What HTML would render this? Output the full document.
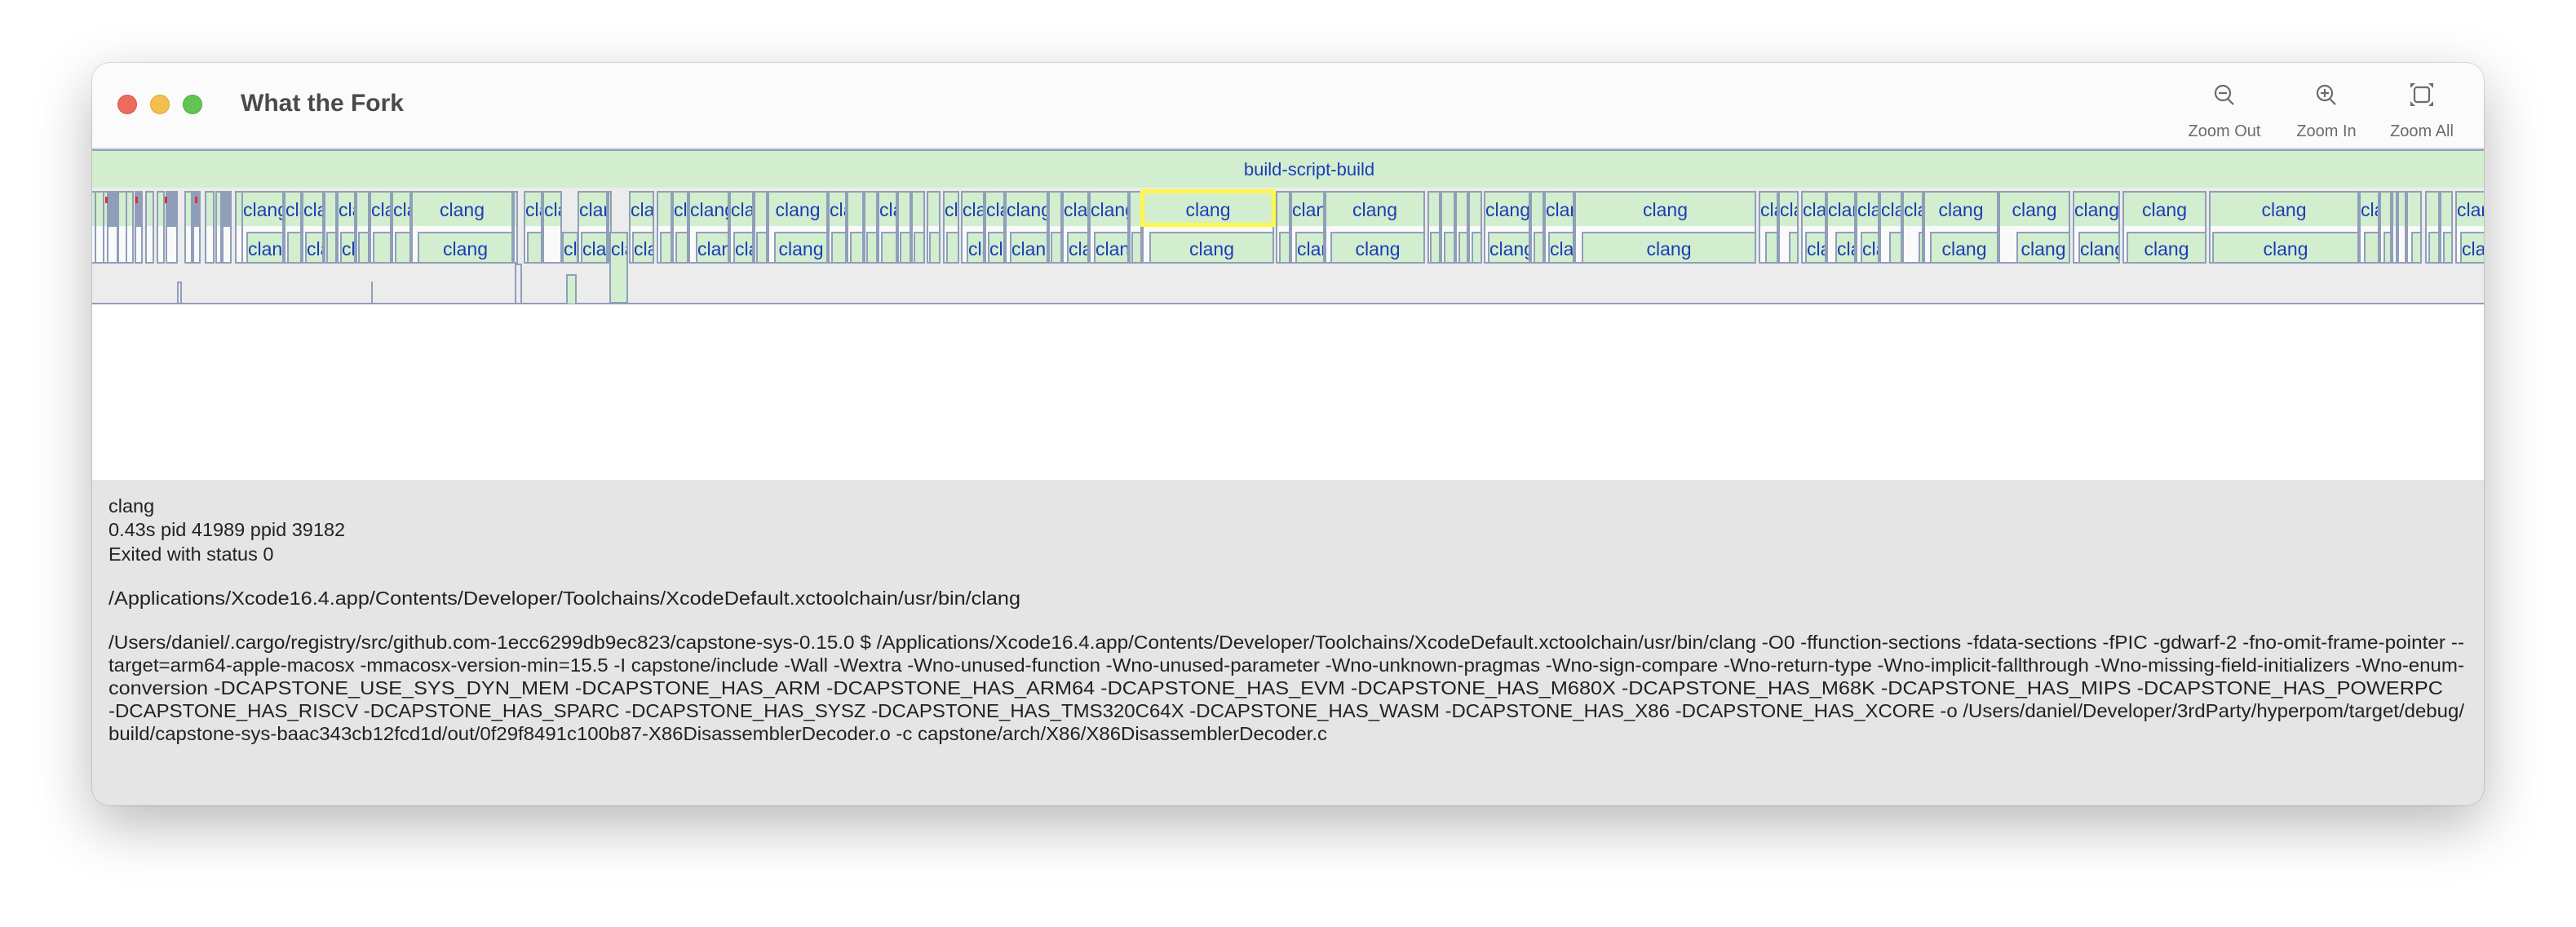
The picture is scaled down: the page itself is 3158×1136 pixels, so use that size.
<!DOCTYPE html>
<html><head><meta charset="utf-8"><style>
*{margin:0;padding:0;box-sizing:border-box}
body{width:3158px;height:1136px;background:#fff;position:relative;overflow:hidden;font-family:"Liberation Sans",Arial,sans-serif}
#win{position:absolute;left:113px;top:77px;width:2932px;height:910px;border-radius:22px;overflow:hidden;background:#fff;box-shadow:0 24px 70px rgba(0,0,0,.28),0 0 0 1px rgba(0,0,0,.12)}
#in{position:absolute;left:-113px;top:-77px;width:3158px;height:1136px}
.a{position:absolute}
i{position:absolute;display:block;font-style:normal;border:2px solid #909fb9;overflow:hidden;white-space:nowrap;text-align:center;color:#1c3cb8;font-size:23px}
i.p{top:234px;height:89px;background:linear-gradient(#d2eecf 0,#d2eecf 41px,#fafafa 41px)}
i.p b{display:block;line-height:42px;font-weight:normal}
i.c{top:284px;height:39px;background:#d2eecf}
i.c b{display:block;line-height:38px;font-weight:normal}
i.d{top:234px;height:89px;background:linear-gradient(#909fb9 0,#909fb9 42px,#fafafa 42px)}
.t{position:absolute;left:133px;font-size:23.5px;color:#222;line-height:28px;white-space:nowrap}
.lb{position:absolute;top:150px;font-size:20px;color:#6b6b6b;transform:translateX(-50%);white-space:nowrap}
</style></head><body>
<div id="win"><div id="in">
<div class="a" style="left:0;top:77px;width:3158px;height:104px;background:#fbfbfb"></div>
<div class="a" style="left:0;top:181px;width:3158px;height:2px;background:#d9d9d9"></div>
<div class="a" style="left:144px;top:116px;width:24px;height:24px;border-radius:50%;background:#ec6a5e;border:1px solid #d9564b"></div>
<div class="a" style="left:184px;top:116px;width:24px;height:24px;border-radius:50%;background:#f4bf4f;border:1px solid #dca63a"></div>
<div class="a" style="left:224px;top:116px;width:24px;height:24px;border-radius:50%;background:#61c554;border:1px solid #4ead42"></div>
<div class="a" style="left:295px;top:110px;font-size:30px;font-weight:bold;color:#4a4a4a">What the Fork</div>
<svg class="a" style="left:2690px;top:95px" width="310" height="40" viewBox="2690 95 310 40">
<g fill="none" stroke="#6b6b6b" stroke-width="2.2">
<circle cx="2725" cy="114" r="9"/><line x1="2731" y1="121" x2="2738" y2="128"/><line x1="2720" y1="114" x2="2730" y2="114"/>
<circle cx="2850" cy="114" r="9"/><line x1="2856" y1="121" x2="2863" y2="128"/><line x1="2845" y1="114" x2="2855" y2="114"/><line x1="2850" y1="109" x2="2850" y2="119"/>
<rect x="2960" y="107" width="18" height="18" rx="3"/>
</g>
<g fill="#6b6b6b"><path d="M2955 102h6l-6 6z"/><path d="M2983 102h-6l6 6z"/><path d="M2955 130h6l-6-6z"/><path d="M2983 130h-6l6-6z"/></g>
</svg>
<div class="lb" style="left:2727px">Zoom Out</div>
<div class="lb" style="left:2852px">Zoom In</div>
<div class="lb" style="left:2969px">Zoom All</div>

<div class="a" style="left:0;top:183px;width:3158px;height:2px;background:#909fb9"></div>
<div class="a" style="left:0;top:185px;width:3158px;height:45px;background:#d2eecf;text-align:center;font-size:22px;color:#1c3cb8;line-height:46px"><span style="position:absolute;left:1605px;transform:translateX(-50%)">build-script-build</span></div>
<div class="a" style="left:0;top:230px;width:3158px;height:142px;background:#ececec"></div>
<div class="a" style="left:0;top:371px;width:3158px;height:2px;background:#909fb9"></div>

<i class="p" style="left:111px;width:7px"></i><i class="p" style="left:116px;width:12px"></i><i class="p" style="left:126px;width:7px"></i><i class="d" style="left:131px;width:14px"></i><i class="p" style="left:144px;width:12px"></i><i class="p" style="left:154px;width:10px"></i><i class="d" style="left:165px;width:10px"></i><i class="p" style="left:178px;width:11px"></i><i class="p" style="left:192px;width:10px"></i><i class="d" style="left:203px;width:15px"></i><i class="p" style="left:226px;width:10px"></i><i class="d" style="left:236px;width:10px"></i><i class="p" style="left:251px;width:12px"></i><i class="p" style="left:264px;width:8px"></i><i class="d" style="left:272px;width:12px"></i><i class="p" style="left:288px;width:10px"></i>
<div class="a" style="left:129px;top:241px;width:3px;height:8px;background:#e03030"></div><div class="a" style="left:166px;top:241px;width:3px;height:8px;background:#e03030"></div><div class="a" style="left:202px;top:241px;width:3px;height:8px;background:#e03030"></div><div class="a" style="left:239px;top:241px;width:3px;height:8px;background:#e03030"></div>

<i class="p" style="left:296px;width:52px"><b>clang</b></i><i class="c" style="left:302px;width:46px"><b>clang</b></i>
<i class="p" style="left:348px;width:22px"><b>clang</b></i><i class="c" style="left:352px;width:18px"></i>
<i class="p" style="left:370px;width:27px"><b>clang</b></i><i class="c" style="left:374px;width:23px"><b>clang</b></i>
<i class="p" style="left:397px;width:16px"></i><i class="c" style="left:400px;width:13px"></i>
<i class="p" style="left:413px;width:23px"><b>clang</b></i><i class="c" style="left:417px;width:19px"><b>clang</b></i>
<i class="p" style="left:436px;width:17px"></i><i class="c" style="left:439px;width:14px"></i>
<i class="p" style="left:453px;width:27px"><b>clang</b></i><i class="c" style="left:457px;width:23px"></i>
<i class="p" style="left:480px;width:24px"><b>clang</b></i><i class="c" style="left:484px;width:20px"></i>
<i class="p" style="left:504px;width:125px"><b>clang</b></i><i class="c" style="left:512px;width:117px"><b>clang</b></i>
<i class="p" style="left:629px;width:6px"></i>
<i class="p" style="left:642px;width:23px"><b>clang</b></i><i class="c" style="left:646px;width:19px"></i>
<i class="p" style="left:665px;width:24px"><b>clang</b></i><i class="c" style="left:689px;width:20px"><b>clang</b></i>
<i class="p" style="left:708px;width:37px"><b>clang</b></i><i class="c" style="left:712px;width:33px"><b>clang</b></i>
<i class="p" style="left:745px;width:5px"></i>
<i class="c" style="left:747px;width:23px;height:88px"><b>clang</b></i>
<i class="p" style="left:771px;width:31px"><b>clang</b></i><i class="c" style="left:775px;width:27px"><b>clang</b></i>
<i class="p" style="left:805px;width:19px"></i><i class="c" style="left:809px;width:15px"></i>
<i class="p" style="left:824px;width:20px"><b>clang</b></i><i class="c" style="left:828px;width:16px"></i>
<i class="p" style="left:844px;width:50px"><b>clang</b></i><i class="c" style="left:853px;width:41px"><b>clang</b></i>
<i class="p" style="left:894px;width:30px"><b>clang</b></i><i class="c" style="left:899px;width:25px"><b>clang</b></i>
<i class="p" style="left:924px;width:17px"></i><i class="c" style="left:927px;width:14px"></i>
<i class="p" style="left:941px;width:74px"><b>clang</b></i><i class="c" style="left:949px;width:66px"><b>clang</b></i>
<i class="p" style="left:1015px;width:23px"><b>clang</b></i><i class="c" style="left:1019px;width:19px"></i>
<i class="p" style="left:1038px;width:21px"></i><i class="c" style="left:1042px;width:17px"></i>
<i class="p" style="left:1059px;width:17px"></i><i class="c" style="left:1062px;width:14px"></i>
<i class="p" style="left:1076px;width:24px"><b>clang</b></i><i class="c" style="left:1080px;width:20px"></i>
<i class="p" style="left:1100px;width:17px"></i><i class="c" style="left:1103px;width:14px"></i>
<i class="p" style="left:1117px;width:17px"></i><i class="c" style="left:1120px;width:14px"></i>
<i class="p" style="left:1136px;width:17px"></i><i class="c" style="left:1139px;width:14px"></i>
<i class="p" style="left:1156px;width:20px"><b>clang</b></i><i class="c" style="left:1160px;width:16px"></i>
<i class="p" style="left:1178px;width:29px"><b>clang</b></i><i class="c" style="left:1185px;width:22px"><b>clang</b></i>
<i class="p" style="left:1207px;width:25px"><b>clang</b></i><i class="c" style="left:1211px;width:21px"><b>clang</b></i>
<i class="p" style="left:1232px;width:53px"><b>clang</b></i><i class="c" style="left:1238px;width:47px"><b>clang</b></i>
<i class="p" style="left:1285px;width:17px"></i><i class="c" style="left:1288px;width:14px"></i>
<i class="p" style="left:1302px;width:33px"><b>clang</b></i><i class="c" style="left:1308px;width:27px"><b>clang</b></i>
<i class="p" style="left:1335px;width:49px"><b>clang</b></i><i class="c" style="left:1341px;width:43px"><b>clang</b></i>
<i class="p" style="left:1384px;width:16px"></i><i class="c" style="left:1387px;width:13px"></i>
<i class="p" style="left:1400px;width:162px"><b>clang</b></i><i class="c" style="left:1409px;width:153px"><b>clang</b></i>
<div class="a" style="left:1398px;top:232px;width:166px;height:46px;border:5px solid #fdf84a"></div>
<i class="p" style="left:1564px;width:18px"></i><i class="c" style="left:1568px;width:14px"></i>
<i class="p" style="left:1582px;width:42px"><b>clang</b></i><i class="c" style="left:1588px;width:36px"><b>clang</b></i>
<i class="p" style="left:1624px;width:123px"><b>clang</b></i><i class="c" style="left:1631px;width:116px"><b>clang</b></i>
<i class="p" style="left:1750px;width:16px"></i><i class="c" style="left:1753px;width:13px"></i>
<i class="p" style="left:1766px;width:18px"></i><i class="c" style="left:1770px;width:14px"></i>
<i class="p" style="left:1784px;width:16px"></i><i class="c" style="left:1788px;width:12px"></i>
<i class="p" style="left:1800px;width:17px"></i><i class="c" style="left:1804px;width:13px"></i>
<i class="p" style="left:1819px;width:57px"><b>clang</b></i><i class="c" style="left:1824px;width:52px"><b>clang</b></i>
<i class="p" style="left:1876px;width:17px"></i><i class="c" style="left:1880px;width:13px"></i>
<i class="p" style="left:1893px;width:37px"><b>clang</b></i><i class="c" style="left:1898px;width:32px"><b>clang</b></i>
<i class="p" style="left:1930px;width:223px"><b>clang</b></i><i class="c" style="left:1939px;width:214px"><b>clang</b></i>
<i class="p" style="left:2156px;width:24px"><b>clang</b></i><i class="c" style="left:2164px;width:16px"></i>
<i class="p" style="left:2180px;width:25px"><b>clang</b></i><i class="c" style="left:2193px;width:12px"></i>
<i class="p" style="left:2208px;width:31px"><b>clang</b></i><i class="c" style="left:2213px;width:26px"><b>clang</b></i>
<i class="p" style="left:2239px;width:36px"><b>clang</b></i><i class="c" style="left:2250px;width:25px"><b>clang</b></i>
<i class="p" style="left:2275px;width:29px"><b>clang</b></i><i class="c" style="left:2281px;width:23px"><b>clang</b></i>
<i class="p" style="left:2304px;width:28px"><b>clang</b></i><i class="c" style="left:2316px;width:16px"></i>
<i class="p" style="left:2332px;width:26px"><b>clang</b></i><i class="c" style="left:2352px;width:6px"></i>
<i class="p" style="left:2358px;width:92px"><b>clang</b></i><i class="c" style="left:2366px;width:84px"><b>clang</b></i>
<i class="p" style="left:2450px;width:88px"><b>clang</b></i><i class="c" style="left:2472px;width:66px"><b>clang</b></i>
<i class="p" style="left:2541px;width:58px"><b>clang</b></i><i class="c" style="left:2548px;width:51px"><b>clang</b></i>
<i class="p" style="left:2602px;width:103px"><b>clang</b></i><i class="c" style="left:2607px;width:98px"><b>clang</b></i>
<i class="p" style="left:2708px;width:184px"><b>clang</b></i><i class="c" style="left:2712px;width:180px"><b>clang</b></i>
<i class="p" style="left:2892px;width:25px"><b>clang</b></i><i class="c" style="left:2898px;width:19px"></i>
<i class="p" style="left:2917px;width:15px"></i><i class="c" style="left:2922px;width:10px"></i>
<i class="p" style="left:2932px;width:7px"></i><i class="p" style="left:2939px;width:11px"></i>
<i class="p" style="left:2950px;width:19px"></i><i class="c" style="left:2956px;width:13px"></i>
<i class="p" style="left:2973px;width:18px"></i><i class="c" style="left:2977px;width:14px"></i>
<i class="p" style="left:2991px;width:16px"></i><i class="c" style="left:2995px;width:12px"></i>
<i class="p" style="left:3010px;width:40px"><b>clang</b></i><i class="c" style="left:3016px;width:34px"><b>clang</b></i>
<div class="a" style="left:217px;top:345px;width:6px;height:27px;border:2px solid #909fb9;border-bottom:0"></div>
<div class="a" style="left:455px;top:345px;width:2px;height:27px;background:#909fb9"></div>
<div class="a" style="left:631px;top:323px;width:9px;height:49px;border:2px solid #909fb9;border-bottom:0"></div>
<div class="a" style="left:694px;top:336px;width:13px;height:36px;border:2px solid #909fb9;border-bottom:0;background:#d2eecf"></div>

<div class="a" style="left:0;top:588px;width:3158px;height:400px;background:#e5e5e5"></div>
<div class="t" style="top:606px">clang</div>
<div class="t" style="top:635px">0.43s pid 41989 ppid 39182</div>
<div class="t" style="top:665px">Exited with status 0</div>
<svg class="a" style="left:0;top:700px" width="3158" height="220" viewBox="0 700 3158 220" font-family="Liberation Sans, Arial, sans-serif" font-size="23.5" fill="#222">
<text x="133" y="741" textLength="1118" lengthAdjust="spacingAndGlyphs">/Applications/Xcode16.4.app/Contents/Developer/Toolchains/XcodeDefault.xctoolchain/usr/bin/clang</text>
<text x="133" y="795" textLength="2888" lengthAdjust="spacingAndGlyphs">/Users/daniel/.cargo/registry/src/github.com-1ecc6299db9ec823/capstone-sys-0.15.0 $  /Applications/Xcode16.4.app/Contents/Developer/Toolchains/XcodeDefault.xctoolchain/usr/bin/clang -O0 -ffunction-sections -fdata-sections -fPIC -gdwarf-2 -fno-omit-frame-pointer --</text>
<text x="133" y="823" textLength="2888" lengthAdjust="spacingAndGlyphs">target=arm64-apple-macosx -mmacosx-version-min=15.5 -I capstone/include -Wall -Wextra -Wno-unused-function -Wno-unused-parameter -Wno-unknown-pragmas -Wno-sign-compare -Wno-return-type -Wno-implicit-fallthrough -Wno-missing-field-initializers -Wno-enum-</text>
<text x="133" y="851" textLength="2862" lengthAdjust="spacingAndGlyphs">conversion -DCAPSTONE_USE_SYS_DYN_MEM -DCAPSTONE_HAS_ARM -DCAPSTONE_HAS_ARM64 -DCAPSTONE_HAS_EVM -DCAPSTONE_HAS_M680X -DCAPSTONE_HAS_M68K -DCAPSTONE_HAS_MIPS -DCAPSTONE_HAS_POWERPC</text>
<text x="133" y="879" textLength="2888" lengthAdjust="spacingAndGlyphs">-DCAPSTONE_HAS_RISCV -DCAPSTONE_HAS_SPARC -DCAPSTONE_HAS_SYSZ -DCAPSTONE_HAS_TMS320C64X -DCAPSTONE_HAS_WASM -DCAPSTONE_HAS_X86 -DCAPSTONE_HAS_XCORE -o /Users/daniel/Developer/3rdParty/hyperpom/target/debug/</text>
<text x="133" y="907" textLength="1494" lengthAdjust="spacingAndGlyphs">build/capstone-sys-baac343cb12fcd1d/out/0f29f8491c100b87-X86DisassemblerDecoder.o -c capstone/arch/X86/X86DisassemblerDecoder.c</text>
</svg>
</div></div>
</body></html>
